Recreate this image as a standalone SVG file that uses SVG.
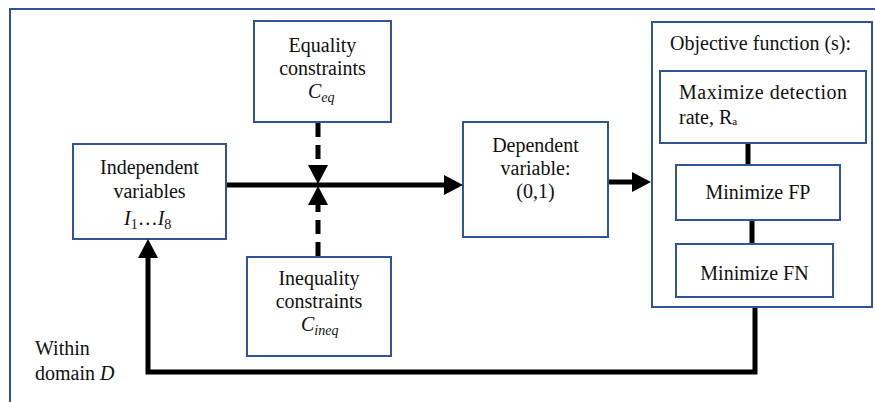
<svg xmlns="http://www.w3.org/2000/svg" width="875" height="402" viewBox="0 0 875 402">
<style>
  .box { fill: #ffffff; stroke: #2F5597; stroke-width: 2; }
  .frame { fill: #ffffff; stroke: #2F5597; stroke-width: 2; }
  .t { font-family: "Liberation Serif", "Times New Roman", serif; font-size: 20px; fill: #111111; }
  .c { text-anchor: middle; }
  .m { font-style: italic; }
  .sub { font-size: 14px; }
  .ln { fill: none; stroke: #000000; stroke-width: 5; }
  .dash { stroke-dasharray: 14 8; }
</style>
<defs>
  <marker id="ah" markerUnits="userSpaceOnUse" markerWidth="20" markerHeight="20" refX="9" refY="10" orient="auto" viewBox="0 0 20 20">
    <path d="M0,0 L19,10 L0,20 z" fill="#000000"/>
  </marker>
</defs>
<rect class="frame" x="10" y="9" width="880" height="410"/>

<g id="equality">
  <rect class="box" x="254" y="21" width="137" height="101"/>
  <text class="t c" x="322.5" y="52">Equality</text>
  <text class="t c" x="322.5" y="75">constraints</text>
  <text class="t m" x="308" y="98">C<tspan class="sub" dy="4">eq</tspan></text>
</g>

<g id="independent">
  <rect class="box" x="73" y="144" width="153" height="95"/>
  <text class="t c" x="149.5" y="174">Independent</text>
  <text class="t c" x="149.5" y="198">variables</text>
  <text class="t" x="124" y="225"><tspan class="m">I</tspan><tspan class="sub" dy="4">1</tspan><tspan dy="-4">…</tspan><tspan class="m">I</tspan><tspan class="sub" dy="4">8</tspan></text>
</g>

<g id="inequality">
  <rect class="box" x="247" y="257" width="144" height="99"/>
  <text class="t c" x="319" y="285">Inequality</text>
  <text class="t c" x="319" y="308">constraints</text>
  <text class="t m" x="301" y="331">C<tspan class="sub" dy="4">ineq</tspan></text>
</g>

<g id="dependent">
  <rect class="box" x="463" y="122" width="145" height="115"/>
  <text class="t c" x="535.5" y="152">Dependent</text>
  <text class="t c" x="535.5" y="175">variable:</text>
  <text class="t c" x="535.5" y="198">(0,1)</text>
</g>

<g id="objective">
  <rect class="box" x="652" y="22" width="220" height="285"/>
  <text class="t" x="670" y="50">Objective function (s):</text>
</g>

<g id="maximize">
  <rect class="box" x="660" y="71" width="206" height="72"/>
  <text class="t" x="679" y="99" textLength="168" lengthAdjust="spacing">Maximize  detection</text>
  <text class="t" x="679" y="124">rate, R<tspan font-size="11" dy="1">a</tspan></text>
</g>

<g id="minfp">
  <rect class="box" x="676" y="165" width="164" height="55"/>
  <text class="t c" x="758" y="199">Minimize FP</text>
</g>

<g id="minfn">
  <rect class="box" x="676" y="244" width="157" height="53"/>
  <text class="t c" x="754.5" y="280">Minimize FN</text>
</g>

<g id="domain">
  <text class="t" x="35" y="355">Within</text>
  <text class="t" x="35" y="380">domain <tspan class="m">D</tspan></text>
</g>

<g id="connectors">
  <line class="ln" x1="227" y1="185" x2="453" y2="185" marker-end="url(#ah)"/>
  <line class="ln dash" x1="318" y1="123" x2="318" y2="174" marker-end="url(#ah)"/>
  <line class="ln dash" x1="318" y1="256" x2="318" y2="196" marker-end="url(#ah)"/>
  <line class="ln" x1="609" y1="182" x2="641" y2="182" marker-end="url(#ah)"/>
  <line class="ln" x1="748" y1="144" x2="748" y2="164"/>
  <line class="ln" x1="752" y1="221" x2="752" y2="243"/>
  <path class="ln" d="M755,308 V372 H148 V249" marker-end="url(#ah)"/>
</g>
</svg>
